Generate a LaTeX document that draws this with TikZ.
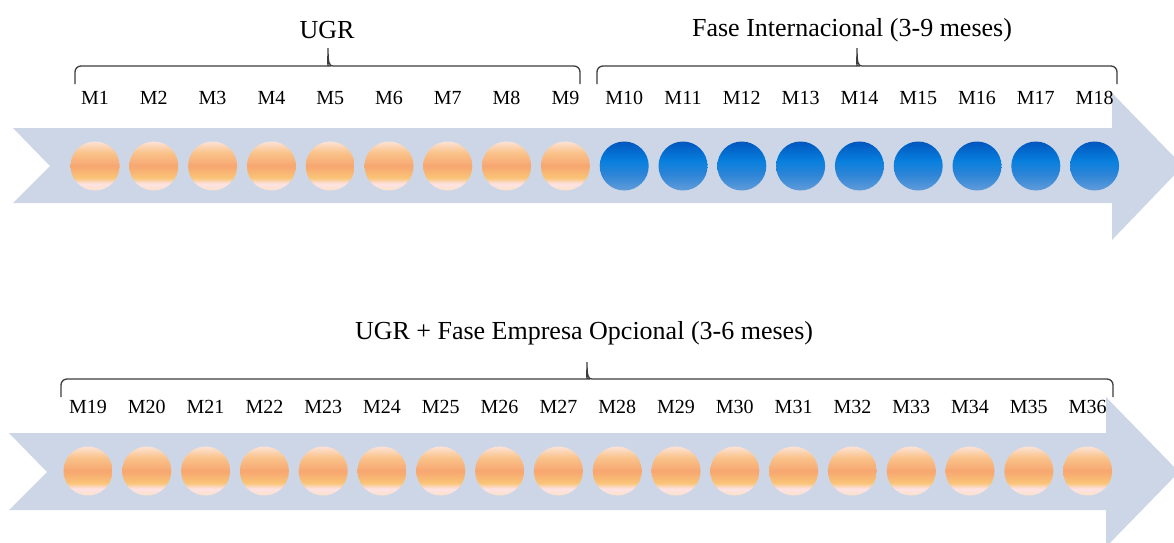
\documentclass[tikz,border=0pt]{standalone}
\usepackage{fontspec}
\setmainfont{Liberation Serif}
\definecolor{bandblue}{RGB}{205,214,230}
\definecolor{bracegray}{RGB}{60,60,60}
\definecolor{otop}{RGB}{252,226,214}
\definecolor{opeach}{RGB}{250,196,140}
\definecolor{oorange}{RGB}{247,166,112}
\definecolor{oyellow}{RGB}{249,196,118}
\definecolor{opink}{RGB}{253,226,228}
\definecolor{obot}{RGB}{251,226,200}
\definecolor{btop}{RGB}{0,86,190}
\definecolor{bmid}{RGB}{8,128,222}
\definecolor{blow}{RGB}{44,132,214}
\definecolor{bbot}{RGB}{96,156,218}
\pgfdeclareverticalshading{ugrshade}{100bp}{color(0bp)=(obot); color(25bp)=(obot);
  color(32bp)=(opink); color(38bp)=(oyellow); color(50bp)=(oorange);
  color(64bp)=(opeach); color(75bp)=(otop); color(100bp)=(otop)}
\pgfdeclareverticalshading{intshade}{100bp}{color(0bp)=(bbot); color(25bp)=(bbot);
  color(42bp)=(blow); color(55bp)=(bmid); color(75bp)=(btop); color(100bp)=(btop)}
% brace: left end, tip, right end, line, tip height
\newcommand\phasebrace[5]{%
  \draw[bracebox] (#1,#4+18) [rounded corners=6pt] -- (#1,#4) -- (#2-5,#4) [sharp corners]
    .. controls (#2-1,#4) and (#2,#4-3) .. (#2,#5)
    .. controls (#2,#4-3) and (#2+1,#4) .. (#2+5,#4) [rounded corners=6pt] -- (#3,#4) -- (#3,#4+18);}
\begin{document}
\begin{tikzpicture}[x=1pt,y=-1pt,
  ball/.style={circle,minimum size=49pt,inner sep=0pt},
  ugrball/.style={ball,shading=ugrshade},
  intball/.style={ball,shading=intshade},
  month/.style={font=\fontsize{20}{24}\selectfont,inner sep=0pt},
  phase/.style={font=\fontsize{26}{31}\selectfont,inner sep=0pt},
  bracebox/.style={draw=bracegray,line width=1.3pt}]
\useasboundingbox (0,0) rectangle (1174,542);
% first 18 months
\fill[bandblue] (13,128)--(1112,128)--(1112,93)--(1183,166)--(1112,240)--(1112,203)--(13,203)--(50,166)--cycle;
\foreach \i in {1,...,18}{
  \pgfmathsetmacro\xx{95+58.8*(\i-1)}
  \ifnum\i<10 \node[ugrball] (m\i) at (\xx,166) {};
  \else \node[intball] (m\i) at (\xx,166) {}; \fi
  \node[month] (t\i) at (\xx,98) {M\i};
}
\node[phase] (ugr) at (327,30) {UGR};
\node[phase] (int) at (852,30) {Fase Internacional (3-9 meses)};
\phasebrace{75}{328}{580}{66}{48}
\phasebrace{597}{857}{1117}{66}{48}
% months 19 to 36
\fill[bandblue] (9,433)--(1106,433)--(1106,397)--(1179,472)--(1106,547)--(1106,510)--(9,510)--(47,472)--cycle;
\foreach \i in {19,...,36}{
  \pgfmathsetmacro\xx{88+58.8*(\i-19)}
  \node[ugrball] (m\i) at (\xx,471) {};
  \node[month] (t\i) at (\xx,407) {M\i};
}
\node[phase] (emp) at (584,333) {UGR + Fase Empresa Opcional (3-6 meses)};
\phasebrace{61}{587}{1113}{379}{362}
\end{tikzpicture}
\end{document}
